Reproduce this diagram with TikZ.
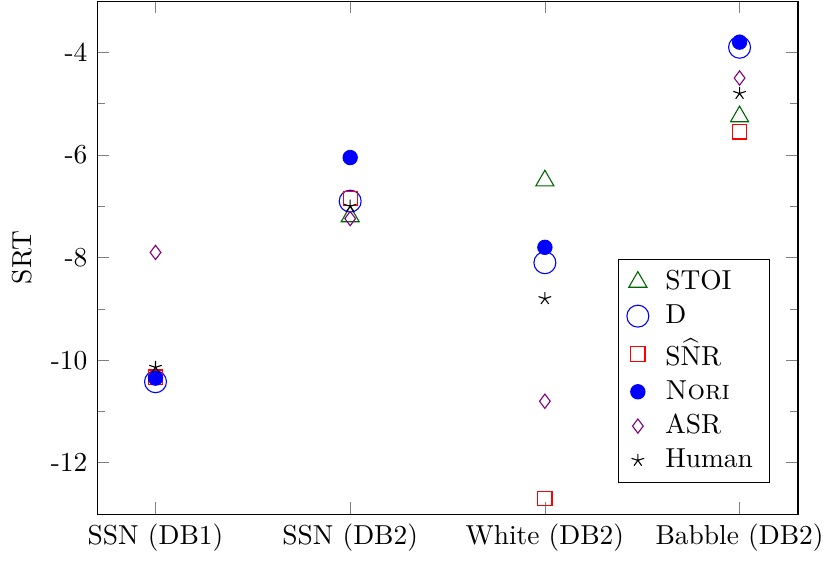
\documentclass[tikz,border=0pt]{standalone}
\usepackage{amsmath}
\usepackage{pgfplots}
\pgfplotsset{compat=1.18}
\definecolor{stoigreen}{rgb}{0,0.4,0}
% open square drawn as a plain closed path
\pgfdeclareplotmark{sqbox}{%
  \pgfpathmoveto{\pgfqpoint{-\pgfplotmarksize}{-\pgfplotmarksize}}%
  \pgfpathlineto{\pgfqpoint{\pgfplotmarksize}{-\pgfplotmarksize}}%
  \pgfpathlineto{\pgfqpoint{\pgfplotmarksize}{\pgfplotmarksize}}%
  \pgfpathlineto{\pgfqpoint{-\pgfplotmarksize}{\pgfplotmarksize}}%
  \pgfpathclose
  \pgfusepathqstroke}

\begin{document}
\begin{tikzpicture}
  \begin{axis}[
      scale only axis, width=255.5pt, height=187pt,
      xmin=-0.3, xmax=3.3, ymin=-13, ymax=-3,
      xtick={0,1,2,3},
      xticklabels={SSN (DB1),SSN (DB2),White (DB2),Babble (DB2)},
      ytick={-12,-10,-8,-6,-4},
      yticklabels={-12,-10,-8,-6,-4},
      minor y tick num=1,
      ylabel={SRT},
      legend style={at={(0.96,0.06)},anchor=south east,
        inner xsep=3pt, column sep=3pt, nodes={inner xsep=3pt}},
      legend cell align=left,
    ]
    \addplot[only marks, mark=triangle, mark size=3.8pt, color=stoigreen]
      coordinates {(1,-7.2) (2,-6.5) (3,-5.25)};
    \addplot[only marks, mark=o, mark size=4pt, color=blue]
      coordinates {(0,-10.42) (1,-6.9) (2,-8.1) (3,-3.9)};
    \addplot[only marks, mark=sqbox, mark size=2.6pt, color=red]
      coordinates {(0,-10.33) (1,-6.85) (2,-12.7) (3,-5.55)};
    \addplot[only marks, mark=*, mark size=2.6pt, color=blue]
      coordinates {(0,-10.35) (1,-6.05) (2,-7.8) (3,-3.8)};
    \addplot[only marks, mark=diamond, mark size=2.6pt, color=violet]
      coordinates {(0,-7.9) (1,-7.24) (2,-10.8) (3,-4.5)};
    \addplot[only marks, mark=star, mark size=2.4pt, color=black]
      coordinates {(0,-10.14) (1,-7.0) (2,-8.8) (3,-4.8)};
    \legend{STOI, D, $\mathrm{S\widehat{N}R}$, \textsc{Nori}, ASR, Human}
  \end{axis}
  \pgfresetboundingbox
  \useasboundingbox (-35.4pt,-16.8pt) rectangle (267.9pt,187.4pt);
\end{tikzpicture}
\end{document}
